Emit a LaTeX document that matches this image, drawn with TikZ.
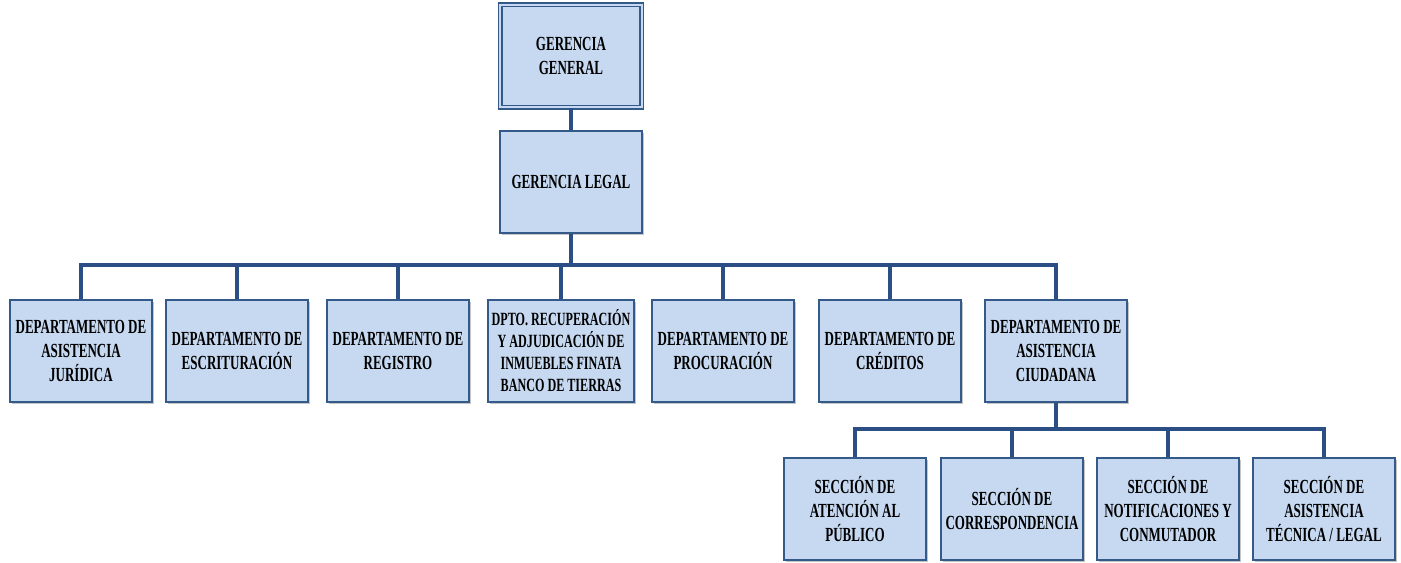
\documentclass[tikz,border=0pt]{standalone}
\usepackage{fontspec}
\newfontfamily\orgfont[FakeStretch=0.65]{Liberation Serif}
\usepackage{tikz}
\usetikzlibrary{shadows}
\definecolor{boxfill}{HTML}{C6D9F1}
\definecolor{boxline}{HTML}{345A8A}
\definecolor{linkblue}{HTML}{2B4F84}
\tikzset{
    orgbox/.style={
        rectangle,
        fill=boxfill,
        draw=boxline, line width=1.3pt,
        minimum width=106pt,
        minimum height=77pt,
        align=center,
        inner sep=1pt,
        font={\orgfont\bfseries\fontsize{15}{18}\selectfont},
        drop shadow={shadow xshift=1.6pt, shadow yshift=-1.6pt, fill=black!45, opacity=0.5}
    },
    topbox/.style={
        orgbox,
        double=boxfill, double distance=1.6pt, line width=0.9pt
    },
    dept 4/.style={
        minimum width=110pt,
        font={\orgfont\bfseries\fontsize{14}{16.5}\selectfont}
    },
    link/.style={draw=linkblue, line width=2.5pt},
}
\begin{document}
\begin{tikzpicture}[x=0.75pt, y=-0.75pt]
\useasboundingbox (0,0) rectangle (1401,562);

\node [topbox] (gg) at (571,56) {GERENCIA\\GENERAL};
\node [orgbox] (gl) at (571,182) {GERENCIA LEGAL};

\foreach \x/\t [count=\i] in {81/{DEPARTAMENTO DE\\ASISTENCIA\\JURÍDICA},
    237/{DEPARTAMENTO DE\\ESCRITURACIÓN},
    398/{DEPARTAMENTO DE\\REGISTRO},
    561/{DPTO. RECUPERACIÓN\\Y ADJUDICACIÓN DE\\INMUEBLES FINATA\\BANCO DE TIERRAS},
    723/{DEPARTAMENTO DE\\PROCURACIÓN},
    890/{DEPARTAMENTO DE\\CRÉDITOS},
    1056/{DEPARTAMENTO DE\\ASISTENCIA\\CIUDADANA}}
  \node [orgbox, dept \i/.try] (dept-\i) at (\x,351) {\t};

\foreach \x/\t [count=\i] in {855/{SECCIÓN DE\\ATENCIÓN AL\\PÚBLICO},
    1012/{SECCIÓN DE\\CORRESPONDENCIA},
    1168/{SECCIÓN DE\\NOTIFICACIONES Y\\CONMUTADOR},
    1324/{SECCIÓN DE\\ASISTENCIA\\TÉCNICA / LEGAL}}
  \node [orgbox] (sec-\i) at (\x,509) {\t};

% connectors
\coordinate (bus) at (571,265);
\coordinate (subbus) at (1056,429);

\draw [link] (gg) -- (gl);

\foreach \i in {1,...,7}
  \draw [link] (gl.south) -- (bus) -| (dept-\i.north);

\foreach \i in {1,...,4}
  \draw [link] (dept-7.south) -- (subbus) -| (sec-\i.north);

\end{tikzpicture}
\end{document}
